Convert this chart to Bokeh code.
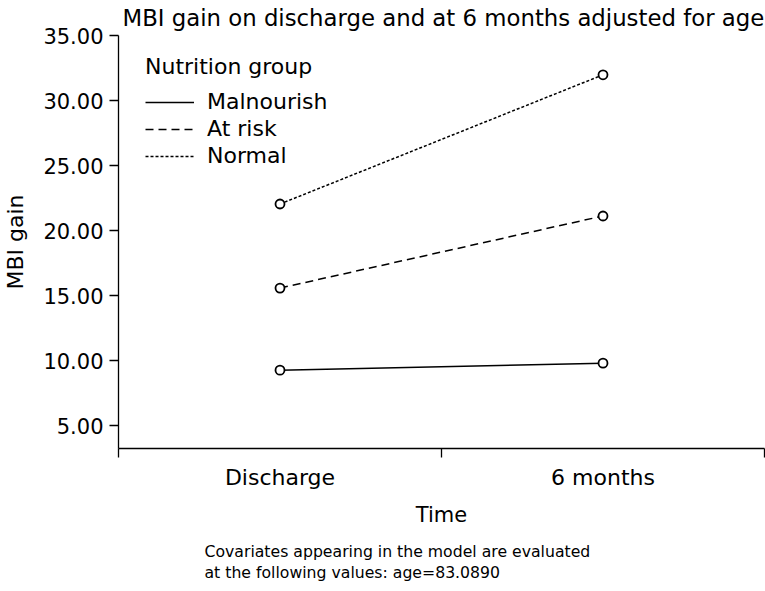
from bokeh.plotting import figure
from bokeh.models import (FixedTicker, NumeralTickFormatter, Legend, LegendItem,
                          Title, Range1d)
from bokeh.embed import file_html
from bokeh.resources import INLINE

# ---- data ----
time_labels = ["Discharge", "6 months"]
time_pos = [0, 1]
malnourish = [9.28, 9.82]
at_risk = [15.59, 21.13]
normal = [22.05, 31.98]
group_names = ["Malnourish", "At risk", "Normal"]
y_ticks = [5, 10, 15, 20, 25, 30, 35]
category_edges = [-0.5, 0.5, 1.5]

TITLE = "MBI gain on discharge and at 6 months adjusted for age"
NOTE_LINES = ["Covariates appearing in the model are evaluated",
              "at the following values: age=83.0890"]

FONT = "DejaVu Sans"
INK = "black"

p = figure(frame_width=646, frame_height=413,
           output_backend="svg", toolbar_location=None,
           x_range=Range1d(-0.5, 1.5), y_range=Range1d(3.26, 35.0),
           min_border_left=116, min_border_right=3,
           min_border_top=35, min_border_bottom=143)

p.title.text = TITLE
p.title.text_font = FONT
p.title.text_font_size = "22.8px"
p.title.text_font_style = "normal"
p.title.text_color = INK
p.title.align = "left"
p.title.vertical_align = "top"
p.title.offset = 4
p.title.standoff = 6

p.grid.visible = False
p.outline_line_color = None

# x axis: boundary ticks as minor ticks, category names at centres
xa = p.xaxis[0]
xa.ticker = FixedTicker(ticks=time_pos, minor_ticks=category_edges)
xa.major_label_overrides = {0: time_labels[0], 1: time_labels[1]}
xa.major_tick_out = 0
xa.major_tick_in = 0
xa.minor_tick_out = 9
xa.minor_tick_in = 0
xa.major_label_standoff = 7
xa.major_label_text_font = FONT
xa.major_label_text_font_size = "22px"
xa.major_label_text_color = INK
xa.axis_label = "Time"
xa.axis_label_text_font = FONT
xa.axis_label_text_font_size = "21px"
xa.axis_label_text_font_style = "normal"
xa.axis_label_text_color = INK
xa.axis_label_standoff = 10
xa.axis_line_width = 1.3
xa.minor_tick_line_width = 1.3

ya = p.yaxis[0]
ya.ticker = FixedTicker(ticks=y_ticks)
ya.formatter = NumeralTickFormatter(format="0.00")
ya.major_tick_out = 9
ya.major_tick_in = 0
ya.minor_tick_out = 0
ya.minor_tick_in = 0
ya.major_label_standoff = 6
ya.major_label_text_font = FONT
ya.major_label_text_font_size = "21px"
ya.major_label_text_color = INK
ya.axis_label = "MBI gain"
ya.axis_label_text_font = FONT
ya.axis_label_text_font_size = "22px"
ya.axis_label_text_font_style = "normal"
ya.axis_label_text_color = INK
ya.axis_label_standoff = 12
ya.axis_line_width = 1.3
ya.major_tick_line_width = 1.3

series = [malnourish, at_risk, normal]
dashes = ["solid", "8 5", "3 2"]
items = []
for name, vals, dash in zip(group_names, series, dashes):
    r = p.line(time_pos, vals, line_color=INK, line_width=1.5, line_dash=dash)
    p.scatter(time_pos, vals, size=9, marker="circle", line_color=INK,
              line_width=1.8, fill_color="white")
    items.append(LegendItem(label=name, renderers=[r]))

legend = Legend(items=items, title="Nutrition group", location=(27, 280),
                border_line_color=None, background_fill_alpha=0,
                padding=0, margin=0, spacing=2,
                glyph_width=49, glyph_height=20, label_height=20,
                label_standoff=13, title_standoff=10)
legend.title_text_font = FONT
legend.title_text_font_size = "22px"
legend.title_text_font_style = "normal"
legend.title_text_color = INK
legend.label_text_font = FONT
legend.label_text_font_size = "22px"
legend.label_text_color = INK
p.add_layout(legend)

note = Title(text="\n".join(NOTE_LINES), align="left",
             offset=86, standoff=21, text_font=FONT, text_font_size="15.7px",
             text_font_style="normal", text_color=INK, text_line_height=1.1)
p.add_layout(note, "below")

open("out.html", "w").write(file_html(p, INLINE))
